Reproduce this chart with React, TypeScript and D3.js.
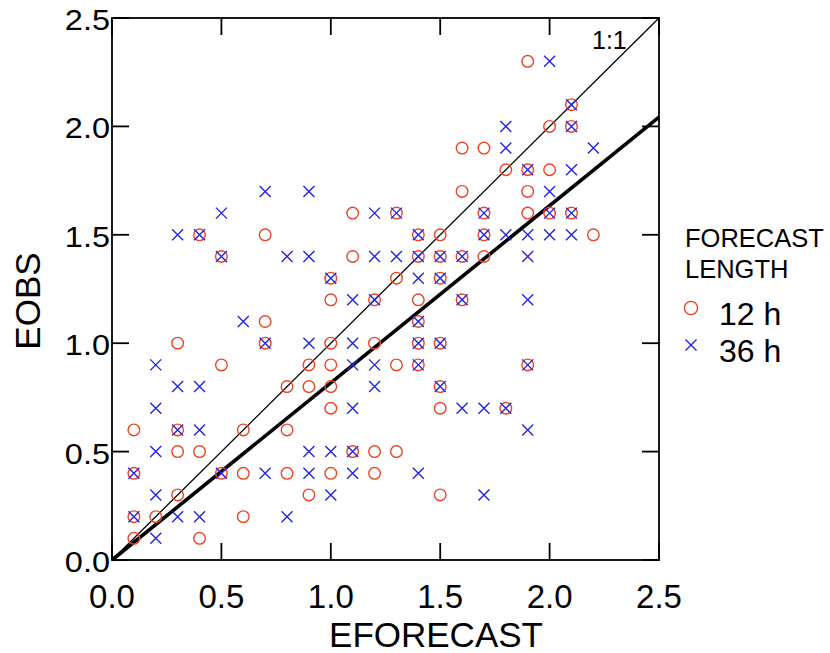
import React from "react";
import * as d3 from "d3";

// [EFORECAST, EOBS]
const series12h: [number, number][] = [
  [1.9, 2.3],
  [2.1, 2.1],
  [2.0, 2.0], [2.1, 2.0],
  [1.6, 1.9], [1.7, 1.9],
  [1.8, 1.8], [1.9, 1.8], [2.0, 1.8],
  [1.6, 1.7], [1.9, 1.7],
  [1.1, 1.6], [1.3, 1.6], [1.7, 1.6], [1.9, 1.6], [2.0, 1.6], [2.1, 1.6],
  [0.4, 1.5], [0.7, 1.5], [1.4, 1.5], [1.5, 1.5], [1.7, 1.5], [2.2, 1.5],
  [0.5, 1.4], [1.1, 1.4], [1.4, 1.4], [1.5, 1.4], [1.6, 1.4], [1.7, 1.4],
  [1.0, 1.3], [1.3, 1.3], [1.5, 1.3],
  [1.0, 1.2], [1.2, 1.2], [1.4, 1.2], [1.6, 1.2],
  [0.7, 1.1], [1.4, 1.1],
  [0.3, 1.0], [0.7, 1.0], [1.0, 1.0], [1.2, 1.0], [1.4, 1.0], [1.5, 1.0],
  [0.5, 0.9], [0.9, 0.9], [1.0, 0.9], [1.3, 0.9], [1.4, 0.9], [1.9, 0.9],
  [0.8, 0.8], [0.9, 0.8], [1.0, 0.8], [1.5, 0.8],
  [1.0, 0.7], [1.5, 0.7], [1.8, 0.7],
  [0.1, 0.6], [0.3, 0.6], [0.6, 0.6], [0.8, 0.6],
  [0.3, 0.5], [0.4, 0.5], [1.1, 0.5], [1.2, 0.5], [1.3, 0.5],
  [0.1, 0.4], [0.5, 0.4], [0.6, 0.4], [0.8, 0.4], [1.0, 0.4], [1.2, 0.4],
  [0.3, 0.3], [0.9, 0.3], [1.5, 0.3],
  [0.1, 0.2], [0.2, 0.2], [0.6, 0.2],
  [0.1, 0.1], [0.4, 0.1],
];

const series36h: [number, number][] = [
  [2.0, 2.3],
  [2.1, 2.1],
  [1.8, 2.0], [2.1, 2.0],
  [1.8, 1.9], [2.2, 1.9],
  [1.9, 1.8], [2.1, 1.8],
  [0.7, 1.7], [0.9, 1.7], [2.0, 1.7],
  [0.5, 1.6], [1.2, 1.6], [1.3, 1.6], [1.7, 1.6], [2.0, 1.6], [2.1, 1.6],
  [0.3, 1.5], [0.4, 1.5], [1.4, 1.5], [1.7, 1.5], [1.8, 1.5], [1.9, 1.5], [2.0, 1.5], [2.1, 1.5],
  [0.5, 1.4], [0.8, 1.4], [0.9, 1.4], [1.2, 1.4], [1.3, 1.4], [1.4, 1.4], [1.5, 1.4], [1.6, 1.4], [1.9, 1.4],
  [1.0, 1.3], [1.4, 1.3], [1.5, 1.3],
  [1.1, 1.2], [1.2, 1.2], [1.6, 1.2], [1.9, 1.2],
  [0.6, 1.1], [1.4, 1.1],
  [0.7, 1.0], [0.9, 1.0], [1.1, 1.0], [1.4, 1.0], [1.5, 1.0],
  [0.2, 0.9], [1.1, 0.9], [1.2, 0.9], [1.4, 0.9], [1.9, 0.9],
  [0.3, 0.8], [0.4, 0.8], [1.2, 0.8], [1.5, 0.8],
  [0.2, 0.7], [1.1, 0.7], [1.6, 0.7], [1.7, 0.7], [1.8, 0.7],
  [0.3, 0.6], [0.4, 0.6], [1.9, 0.6],
  [0.2, 0.5], [0.9, 0.5], [1.0, 0.5], [1.1, 0.5],
  [0.1, 0.4], [0.5, 0.4], [0.7, 0.4], [0.9, 0.4], [1.1, 0.4], [1.4, 0.4],
  [0.2, 0.3], [1.0, 0.3], [1.7, 0.3],
  [0.1, 0.2], [0.3, 0.2], [0.4, 0.2], [0.8, 0.2],
  [0.2, 0.1],
];

const axisTicks = [0, 0.5, 1.0, 1.5, 2.0, 2.5];
const regressionSlope = 0.817;
const legendTitle = ["FORECAST", "LENGTH"];
const legendLabels = ["12 h", "36 h"];

const RED = "#ec4424";
const BLUE = "#2424e6";
const FONT = "'Liberation Sans', Arial, sans-serif";

export default function App() {
  const W = 830, H = 653;
  const x = d3.scaleLinear().domain([0, 2.5]).range([112, 659]);
  const y = d3.scaleLinear().domain([0, 2.5]).range([560, 18]);
  const tickLen = 17;
  const line = d3.line<[number, number]>().x((d) => x(d[0])).y((d) => y(d[1]));
  const r = 5.8;
  const s = 5.5;

  return (
    <svg width={W} height={H} style={{ position: "absolute", left: 0, top: 0, background: "#fff" }} fontFamily={FONT}>
      <rect x={0} y={0} width={W} height={H} fill="#fff" />
      {/* lines */}
      <path d={line([[0, 0], [2.5, 2.5]]) || ""} stroke="#000" strokeWidth={1.3} fill="none" />
      <path d={line([[0, 0], [2.5, 2.5 * regressionSlope]]) || ""} stroke="#000" strokeWidth={3.6} fill="none" />
      <text x={592} y={49} fontSize={25} fill="#000">1:1</text>

      {/* markers */}
      {series12h.map((d, i) => (
        <circle key={"c" + i} cx={x(d[0])} cy={y(d[1])} r={r} fill="none" stroke={RED} strokeWidth={1.4} />
      ))}
      {series36h.map((d, i) => (
        <path key={"x" + i}
          d={`M${x(d[0]) - s},${y(d[1]) - s}L${x(d[0]) + s},${y(d[1]) + s}M${x(d[0]) - s},${y(d[1]) + s}L${x(d[0]) + s},${y(d[1]) - s}`}
          stroke={BLUE} strokeWidth={1.4} fill="none" />
      ))}

      {/* frame */}
      <rect x={x(0)} y={y(2.5)} width={x(2.5) - x(0)} height={y(0) - y(2.5)} fill="none" stroke="#000" strokeWidth={1.8} />
      {axisTicks.map((t) => (
        <g key={"t" + t} stroke="#000" strokeWidth={1.8}>
          <line x1={x(t)} x2={x(t)} y1={y(0)} y2={y(0) - tickLen} />
          <line x1={x(t)} x2={x(t)} y1={y(2.5)} y2={y(2.5) + tickLen} />
          <line x1={x(0)} x2={x(0) + tickLen} y1={y(t)} y2={y(t)} />
          <line x1={x(2.5)} x2={x(2.5) - tickLen} y1={y(t)} y2={y(t)} />
        </g>
      ))}
      {axisTicks.map((t) => (
        <text key={"xl" + t} x={x(t)} y={608} fontSize={33} textAnchor="middle" fill="#000">{t.toFixed(1)}</text>
      ))}
      {axisTicks.map((t) => (
        <text key={"yl" + t} transform={`translate(110,${y(t) + 12}) scale(1.12,1)`} fontSize={29} textAnchor="end" fill="#000">{t.toFixed(1)}</text>
      ))}
      <text x={436} y={647} fontSize={35} textAnchor="middle" fill="#000">EFORECAST</text>
      <text transform={`translate(40,301) rotate(-90)`} fontSize={35} textAnchor="middle" fill="#000">EOBS</text>

      {/* legend */}
      <text x={685} y={247} fontSize={25.5} fill="#000">{legendTitle[0]}</text>
      <text x={685} y={278} fontSize={25.5} fill="#000">{legendTitle[1]}</text>
      <circle cx={691} cy={308} r={r + 0.8} fill="none" stroke={RED} strokeWidth={1.4} />
      <text x={719} y={325} fontSize={32} fill="#000">{legendLabels[0]}</text>
      <path d={`M${691 - s},${345 - s}L${691 + s},${345 + s}M${691 - s},${345 + s}L${691 + s},${345 - s}`} stroke={BLUE} strokeWidth={1.4} />
      <text x={719} y={362} fontSize={32} fill="#000">{legendLabels[1]}</text>
    </svg>
  );
}
